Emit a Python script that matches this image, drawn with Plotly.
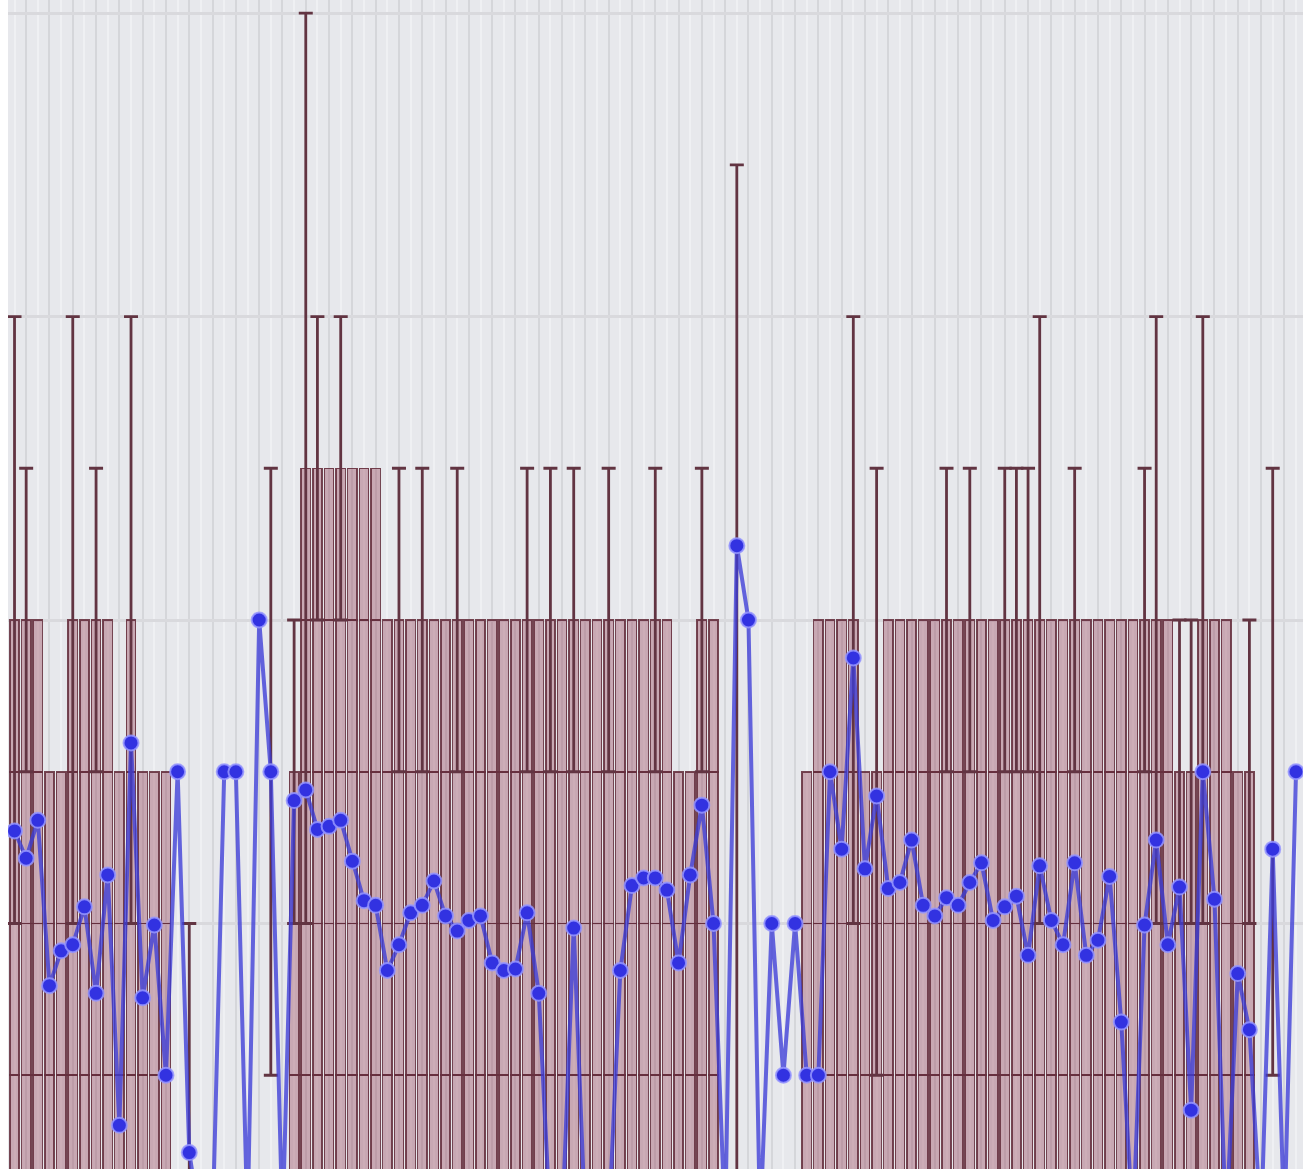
import plotly.graph_objects as go

# ---- data (one value per bar position, left to right) ----
bar_top = [4, 4, 4, 3, 3, 4, 4, 4, 4, 3, 4, 3, 3, 3, 0, 0, 0, 0, 0, 0,
           0, 0, 0, 0, 3, 5, 5, 5, 5, 5, 5, 5, 4, 4, 4, 4, 4, 4, 4, 4,
           4, 4, 4, 4, 4, 4, 4, 4, 4, 4, 4, 4, 4, 4, 4, 4, 4, 3, 3, 4,
           4, 0, 0, 0, 0, 0, 0, 0, 3, 4, 4, 4, 4, 3, 3, 4, 4, 4, 4, 4,
           4, 4, 4, 4, 4, 4, 4, 4, 4, 4, 4, 4, 4, 4, 4, 4, 4, 4, 4, 4,
           3, 3, 4, 4, 4, 3, 3, 0, 0, 0, 0]

err_index = [0, 1, 5, 7, 10, 15, 22, 24, 25, 26, 28, 33, 35, 38, 44, 46, 48, 51,
             55, 59, 62, 72, 74, 80, 82, 85, 86, 87, 88, 91, 97, 98, 100, 101,
             102, 106, 108]
err_center = [4, 4, 4, 4, 4, 1, 3, 3, 5, 5, 5, 4, 4, 4, 4, 4, 4, 4,
              4, 4, 3, 4, 3, 4, 4, 4, 4, 4, 4, 4, 4, 4, 3, 3,
              4, 3, 3]
err_size = [2, 1, 2, 1, 2, 1, 2, 1, 3, 1, 1, 1, 1, 1, 1, 1, 1, 1,
            1, 1, 4, 2, 2, 1, 1, 1, 1, 1, 2, 1, 1, 2, 1, 1,
            2, 1, 2]

line_value = [2.61, 2.43, 2.68, 1.59, 1.82, 1.86, 2.11, 1.54, 2.32, 0.67,
              3.19, 1.51, 1.99, 1.00, 3.00, 0.49, 0, 0, 3.00, 3.00,
              0, 4.00, 3.00, 0, 2.81, 2.88, 2.62, 2.64, 2.68, 2.41,
              2.15, 2.12, 1.69, 1.86, 2.07, 2.12, 2.28, 2.05, 1.95, 2.02,
              2.05, 1.74, 1.69, 1.70, 2.07, 1.54, 0, 0, 1.97, 0,
              0, 0, 1.69, 2.25, 2.30, 2.30, 2.22, 1.74, 2.32, 2.78,
              2.00, 0, 4.49, 4.00, 0, 2.00, 1.00, 2.00, 1.00, 1.00,
              3.00, 2.49, 3.75, 2.36, 2.84, 2.23, 2.27, 2.55, 2.12, 2.05,
              2.17, 2.12, 2.27, 2.40, 2.02, 2.11, 2.18, 1.79, 2.38, 2.02,
              1.86, 2.40, 1.79, 1.89, 2.31, 1.35, 0, 1.99, 2.55, 1.86,
              2.24, 0.77, 3.00, 2.16, 0, 1.67, 1.30, 0, 2.49, 0,
              3.00]

positions = list(range(len(bar_top)))

# ---- figure ----
fig = go.Figure()

# bars drawn as stacked unit blocks (outline at every whole level)
max_level = max(bar_top)
for level in range(1, max_level + 1):
    fig.add_trace(go.Bar(
        x=positions,
        y=[1 if t >= level else None for t in bar_top],
        width=0.8,
        marker=dict(color="rgba(150,62,88,0.38)",
                    line=dict(color="rgba(100,45,60,0.88)", width=1.5)),
        showlegend=False,
        hoverinfo="skip",
    ))

# error bars
center_full = [None] * len(bar_top)
size_full = [0] * len(bar_top)
for idx, c, s in zip(err_index, err_center, err_size):
    center_full[idx] = c
    size_full[idx] = s

fig.add_trace(go.Scatter(
    x=positions, y=center_full, mode="markers",
    marker=dict(size=1, color="rgba(0,0,0,0)"),
    error_y=dict(type="data", array=size_full, symmetric=True,
                 color="rgb(98,52,66)", thickness=2.8, width=7),
    showlegend=False, hoverinfo="skip",
))

# blue line
fig.add_trace(go.Scatter(
    x=positions, y=line_value, mode="lines+markers",
    line=dict(color="rgba(60,60,215,0.78)", width=4),
    marker=dict(size=15, color="rgb(50,50,225)",
                line=dict(color="rgba(150,150,255,0.85)", width=2)),
    showlegend=False,
))

fig.update_layout(
    width=1303, height=1169,
    margin=dict(l=8, r=0, t=0, b=0),
    paper_bgcolor="white",
    plot_bgcolor="#e7e8ec",
    barmode="stack",
    xaxis=dict(range=[-0.56, 110.6], showticklabels=False, ticks="",
               showgrid=True, gridcolor="#d5d6da", gridwidth=2,
               tick0=1, dtick=2, zeroline=False,
               minor=dict(showgrid=True, tick0=0, dtick=2,
                          gridcolor="#eff0f3", gridwidth=2)),
    yaxis=dict(range=[0.382, 8.086], showticklabels=False, ticks="",
               showgrid=True, gridcolor="#d9d9dd", gridwidth=3,
               tick0=0, dtick=2, zeroline=False),
)

fig.write_html("out.html",
               config={"displayModeBar": False},
               post_script="document.body.style.margin='0px';")
